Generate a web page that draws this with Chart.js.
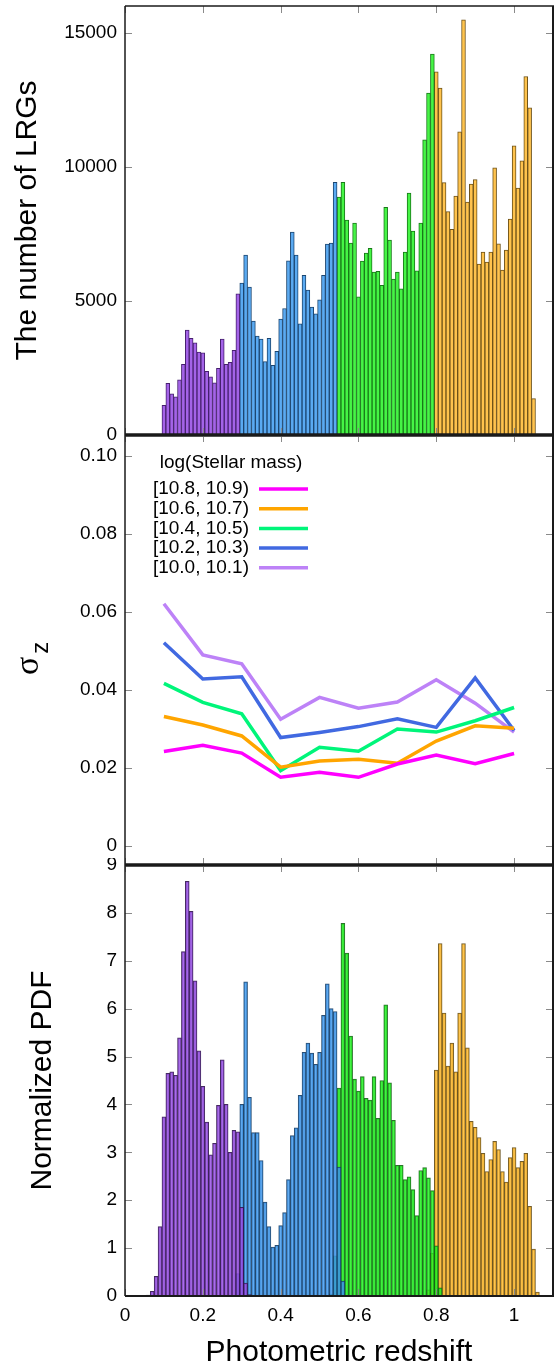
<!DOCTYPE html>
<html lang="en">
<head>
  <meta charset="UTF-8" />
  <title>LRG photometric redshift</title>
  <script src="https://cdn.jsdelivr.net/npm/chart.js"></script>
  <style>
    body {
      margin: 0;
      background: #fff;
    }

    .wrap {
      position: relative;
      width: 556px;
      height: 1368px;
      overflow: hidden;
    }

    canvas {
      position: absolute;
      left: 0;
    }
  </style>
</head>
<body>

  <div class="wrap">
    <canvas id="countChart" width="556" height="440" style="top:0"></canvas>
    <canvas id="sigmaChart" width="556" height="440" style="top:430px"></canvas>
    <canvas id="pdfChart" width="556" height="510" style="top:858px"></canvas>
  </div>

  <script>
    const FONT = '"Liberation Sans", Arial, sans-serif';

    const xTicks = [0, 0.2, 0.4, 0.6, 0.8, 1];
    const binWidth = 0.01;

    // top panel: number of LRGs per photo-z bin, first bin centre in countStart
    const countStart = [0.10, 0.30, 0.55, 0.80];
    const countPurple = [1108, 1930, 1531, 1419, 2054, 2639, 3909, 3610, 3436, 3088,
                         3063, 2378, 2166, 1942, 2490, 3573, 2639, 2714, 3162, 5266];
    const countBlue = [5665, 6711, 5515, 4245, 3685, 3573, 2739, 3610, 2602, 3125,
                       4320, 4719, 6499, 7570, 6711, 4146, 5951, 5403, 4768, 4519,
                       5042, 5951, 7121, 7159, 9425];
    const countGreen = [8877, 9425, 8018, 7159, 7906, 5154, 6486, 6785, 6960, 6076,
                        6101, 5578, 8491, 7271, 5814, 6076, 5453, 6823, 9026, 7607,
                        6125, 7906, 11006, 12749, 14205];
    const countOrange = [13546, 12936, 9412, 8329, 7669, 8914, 11305, 15488, 8690, 9362,
                         9524, 6374, 6823, 6449, 6823, 9960, 7134, 6150, 6897, 8055,
                         10782, 9213, 10221, 13371, 12201, 1357];
    const countTicks = [0, 5000, 10000, 15000];

    // middle panel: sigma_z per mass bin
    const sigmaZ = [0.1, 0.2, 0.3, 0.4, 0.5, 0.6, 0.7, 0.8, 0.9, 1.0];
    const massLabels = ['[10.8, 10.9)', '[10.6, 10.7)', '[10.4, 10.5)', '[10.2, 10.3)', '[10.0, 10.1)'];
    const sigma108 = [0.0241, 0.0257, 0.0237, 0.0175, 0.0188, 0.0175, 0.0209, 0.0232, 0.0210, 0.0236];
    const sigma106 = [0.0331, 0.0309, 0.0281, 0.0201, 0.0217, 0.0221, 0.0211, 0.0268, 0.0307, 0.0301];
    const sigma104 = [0.0416, 0.0367, 0.0338, 0.0192, 0.0252, 0.0242, 0.0299, 0.0291, 0.0320, 0.0354];
    const sigma102 = [0.0520, 0.0427, 0.0433, 0.0277, 0.0290, 0.0305, 0.0325, 0.0303, 0.0430, 0.0295];
    const sigma100 = [0.0620, 0.0489, 0.0466, 0.0324, 0.0380, 0.0352, 0.0368, 0.0425, 0.0365, 0.0291];
    const sigmaTicks = [0, 0.02, 0.04, 0.06, 0.08, 0.10];

    // bottom panel: normalized PDF, first bin centre in pdfStart
    const pdfStart = [0.06, 0.29, 0.53, 0.78];
    const pdfPurple = [0.02, 0.10, 0.41, 1.45, 3.74, 4.65, 4.68, 4.61, 5.39, 7.19,
                       8.66, 8.03, 6.58, 5.12, 4.38, 3.63, 2.95, 3.19, 3.98, 4.93,
                       4.00, 3.00, 3.46, 3.43, 1.85, 0.27, 0.03];
    const pdfBlue = [0.47, 4.00, 6.56, 4.15, 3.41, 3.41, 2.83, 1.96, 1.45, 1.02,
                     1.06, 1.47, 1.74, 2.43, 3.35, 3.51, 4.19, 5.09, 5.28, 5.07,
                     4.84, 5.09, 5.86, 6.52, 6.00, 5.94, 2.69, 0.31];
    const pdfGreen = [0.04, 0.84, 4.34, 7.78, 7.16, 5.43, 4.53, 4.28, 4.58, 4.13,
                      4.09, 4.58, 3.71, 4.50, 6.08, 4.45, 3.67, 2.73, 2.73, 2.43,
                      2.49, 2.22, 1.68, 2.62, 2.68, 2.47, 2.20, 1.05, 0.17];
    const pdfOrange = [0.13, 0.89, 4.72, 7.36, 5.91, 4.80, 5.28, 4.68, 5.91, 7.36,
                       5.18, 3.65, 3.52, 3.31, 2.98, 2.60, 2.85, 3.23, 3.06, 2.60,
                       2.38, 2.89, 3.10, 2.68, 2.81, 2.98, 1.87, 0.98, 0.08];
    const pdfTicks = [0, 1, 2, 3, 4, 5, 6, 7, 8, 9];

    function toBins(start, values) {
      return values.map((v, i) => ({ x: +(start + i * binWidth).toFixed(3), y: v }));
    }

    function barSet(data, fill, edge) {
      return {
        type: 'bar',
        data: data,
        backgroundColor: fill,
        borderColor: edge,
        borderWidth: 1,
        barPercentage: 1,
        categoryPercentage: 1,
        grouped: false
      };
    }

    // inward tick marks and panel frame, gnuplot style
    const frame = {
      id: 'frame',
      afterDraw(chart, args, opts) {
        const { ctx, chartArea: a, scales: { x, y } } = chart;
        ctx.save();
        ctx.strokeStyle = '#8a8a8a';
        ctx.lineWidth = 1;
        ctx.beginPath();
        xTicks.forEach(v => {
          const px = Math.round(x.getPixelForValue(v)) + 0.5;
          ctx.moveTo(px, a.top); ctx.lineTo(px, a.top + 7);
          ctx.moveTo(px, a.bottom); ctx.lineTo(px, a.bottom - 7);
        });
        opts.yTicks.forEach(v => {
          const py = Math.round(y.getPixelForValue(v)) + 0.5;
          ctx.moveTo(a.left, py); ctx.lineTo(a.left + 7, py);
          ctx.moveTo(a.right, py); ctx.lineTo(a.right - 7, py);
        });
        ctx.stroke();

        ctx.strokeStyle = '#1a1a1a';
        ctx.lineWidth = 1.5;
        ctx.beginPath();
        ctx.moveTo(a.left, a.top); ctx.lineTo(a.left, a.bottom);
        ctx.stroke();
        ctx.lineWidth = 2;
        ctx.beginPath();
        ctx.moveTo(a.right, a.top); ctx.lineTo(a.right, a.bottom);
        ctx.stroke();
        ctx.lineWidth = opts.topWidth;
        ctx.beginPath();
        ctx.moveTo(a.left, a.top); ctx.lineTo(a.right + 1, a.top);
        ctx.stroke();
        ctx.lineWidth = opts.bottomWidth;
        ctx.beginPath();
        ctx.moveTo(a.left, a.bottom); ctx.lineTo(a.right + 1, a.bottom);
        ctx.stroke();
        ctx.restore();
      }
    };

    // legend of the sigma_z panel and the sigma_z axis label
    const massLegend = {
      id: 'massLegend',
      afterDraw(chart) {
        const { ctx, chartArea: a } = chart;
        ctx.save();
        ctx.fillStyle = '#000';
        ctx.font = '19px ' + FONT;
        ctx.textBaseline = 'middle';
        ctx.textAlign = 'center';
        ctx.fillText('log(Stellar mass)', a.left + 106, a.top + 28);
        chart.data.datasets.forEach((ds, i) => {
          const yy = a.top + 54 + i * 19.7;
          ctx.textAlign = 'right';
          ctx.fillText(ds.label, a.left + 124, yy);
          ctx.strokeStyle = ds.borderColor;
          ctx.lineWidth = 3.5;
          ctx.beginPath();
          ctx.moveTo(a.left + 134, yy);
          ctx.lineTo(a.left + 183, yy);
          ctx.stroke();
        });

        // sigma_z, rotated
        ctx.translate(38, a.top + 240);
        ctx.rotate(-Math.PI / 2);
        ctx.textAlign = 'left';
        ctx.textBaseline = 'alphabetic';
        ctx.font = '34px "Liberation Serif", "DejaVu Serif", serif';
        ctx.fillText('\u03c3', 0, 0);
        const w = ctx.measureText('\u03c3').width;
        ctx.font = '24px ' + FONT;
        ctx.fillText('z', w + 3, 10);
        ctx.restore();
      }
    };

    function noEdgePadding(s) {
      s.paddingTop = 0;
      s.paddingBottom = 0;
      s.paddingLeft = 0;
      s.paddingRight = 0;
    }

    function yAxis(min, max, ticks, fmt, title, titlePad) {
      return {
        type: 'linear',
        min: min,
        max: max,
        afterFit: s => { s.width = 125; noEdgePadding(s); },
        afterBuildTicks: s => { s.ticks = ticks.map(v => ({ value: v })); },
        grid: { display: false, drawTicks: false },
        border: { display: false },
        ticks: {
          color: '#000',
          padding: 8,
          font: { family: FONT, size: 19 },
          callback: fmt
        },
        title: {
          display: !!title,
          text: title,
          color: '#000',
          padding: { top: titlePad, bottom: 0 },
          font: { family: FONT, size: 30, weight: 'normal' }
        }
      };
    }

    const hiddenX = {
      type: 'linear',
      min: 0,
      max: 1.1,
      offset: false,
      display: false
    };

    const common = {
      responsive: false,
      animation: false,
      events: [],
      plugins: { legend: { display: false }, tooltip: { enabled: false } }
    };

    new Chart(document.getElementById('countChart'), {
      type: 'bar',
      data: {
        datasets: [
          barSet(toBins(countStart[0], countPurple), '#a463e8', '#46206e'),
          barSet(toBins(countStart[1], countBlue), '#5aaaf2', '#1c4670'),
          barSet(toBins(countStart[2], countGreen), '#45f545', '#187818'),
          barSet(toBins(countStart[3], countOrange), '#ffc34d', '#6e5218')
        ]
      },
      options: Object.assign({}, common, {
        layout: { padding: { top: 6, right: 3, bottom: 5, left: 0 } },
        scales: {
          x: hiddenX,
          y: yAxis(0, 16000, countTicks, v => String(v), 'The number of LRGs', 10)
        },
        plugins: Object.assign({}, common.plugins, {
          frame: { yTicks: countTicks, topWidth: 1.5, bottomWidth: 3 }
        })
      }),
      plugins: [frame]
    });

    const lineColors = ['#ff00ff', '#ffa500', '#00f57a', '#4169e1', '#bd82f7'];
    const sigmaSeries = [sigma108, sigma106, sigma104, sigma102, sigma100];

    new Chart(document.getElementById('sigmaChart'), {
      type: 'line',
      data: {
        datasets: sigmaSeries.map((s, i) => ({
          label: massLabels[i],
          data: s.map((v, j) => ({ x: sigmaZ[j], y: v })),
          borderColor: lineColors[i],
          borderWidth: 3.5,
          pointRadius: 0,
          tension: 0,
          fill: false
        }))
      },
      options: Object.assign({}, common, {
        layout: { padding: { top: 5, right: 3, bottom: 5, left: 0 } },
        scales: {
          x: hiddenX,
          y: yAxis(-0.005, 0.1053, sigmaTicks, v => v === 0 ? '0' : v.toFixed(2), '', 0)
        },
        plugins: Object.assign({}, common.plugins, {
          frame: { yTicks: sigmaTicks, topWidth: 3, bottomWidth: 3 }
        })
      }),
      plugins: [frame, massLegend]
    });

    new Chart(document.getElementById('pdfChart'), {
      type: 'bar',
      data: {
        datasets: [
          barSet(toBins(pdfStart[0], pdfPurple), 'rgba(150, 78, 228, 0.82)', 'rgba(50, 20, 80, 0.9)'),
          barSet(toBins(pdfStart[1], pdfBlue), 'rgba(62, 152, 238, 0.82)', 'rgba(20, 60, 100, 0.9)'),
          barSet(toBins(pdfStart[2], pdfGreen), 'rgba(30, 240, 30, 0.82)', 'rgba(20, 100, 20, 0.9)'),
          barSet(toBins(pdfStart[3], pdfOrange), 'rgba(255, 184, 40, 0.82)', 'rgba(100, 75, 20, 0.9)')
        ]
      },
      options: Object.assign({}, common, {
        layout: { padding: { top: 7, right: 3, bottom: 0, left: 0 } },
        scales: {
          x: {
            type: 'linear',
            min: 0,
            max: 1.1,
            offset: false,
            afterFit: s => { s.height = 72; noEdgePadding(s); },
            afterBuildTicks: s => { s.ticks = xTicks.map(v => ({ value: v })); },
            grid: { display: false, drawTicks: false },
            border: { display: false },
            ticks: {
              color: '#000',
              padding: 8,
              maxRotation: 0,
              font: { family: FONT, size: 19 },
              callback: v => String(v)
            },
            title: {
              display: true,
              text: 'Photometric redshift',
              color: '#000',
              padding: { top: 0, bottom: 0 },
              font: { family: FONT, size: 30, weight: 'normal', lineHeight: 1 }
            }
          },
          y: yAxis(0, 9, pdfTicks, v => String(v), 'Normalized PDF', 25)
        },
        plugins: Object.assign({}, common.plugins, {
          frame: { yTicks: pdfTicks, topWidth: 3, bottomWidth: 2 }
        })
      }),
      plugins: [frame]
    });
  </script>

</body>
</html>
